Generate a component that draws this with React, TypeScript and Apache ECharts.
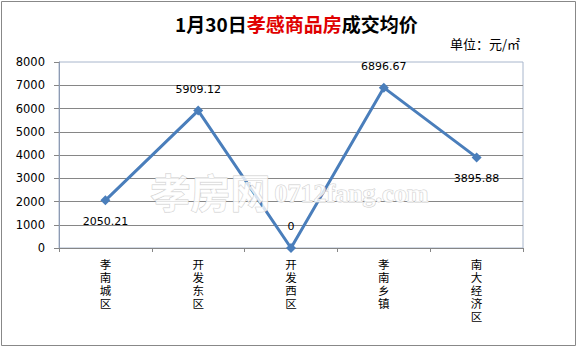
import React, { useEffect, useRef } from "react";
import * as echarts from "echarts";

const categories = ["孝南城区", "开发东区", "开发西区", "孝南乡镇", "南大经济区"];
const prices = [2050.21, 5909.12, 0, 6896.67, 3895.88];
const labelPositions = ["bottom", "top", "top", "top", "bottom"];
const yTicks = [0, 1000, 2000, 3000, 4000, 5000, 6000, 7000, 8000];

export default function App() {
  const ref = useRef<HTMLDivElement>(null);
  useEffect(() => {
    document.body.style.margin = "0";
    const chart = echarts.init(ref.current!, null, { renderer: "svg" });
    chart.setOption({
      animation: false,
      backgroundColor: "#ffffff",
      title: {
        text: "{b|1月30日}{r|孝感商品房}{n|成交均价}",
        left: 170,
        top: 9,
        textStyle: {
          rich: {
            b: { fontSize: 19, fontWeight: "bold", color: "#000", fontFamily: "Noto Sans CJK SC" },
            r: { fontSize: 19, fontWeight: "bold", color: "#e00000", fontFamily: "Noto Sans CJK SC" },
            n: { fontSize: 19, fontWeight: "bold", color: "#000", fontFamily: "Noto Sans CJK SC" },
          },
        },
      },
      graphic: [
        {
          type: "rect",
          shape: { x: 1.5, y: 1.5, width: 574, height: 344 },
          style: { fill: "none", stroke: "#888888", lineWidth: 1 },
          z: -1,
        },
        {
          type: "text",
          left: 450,
          top: 37,
          style: { text: "单位：元/㎡", fontSize: 13, fill: "#000", fontFamily: "Noto Sans CJK SC" },
        },
        {
          type: "text",
          left: 150,
          top: 170,
          z: 100,
          style: {
            text: "孝房网",
            fontSize: 40,
            fontWeight: "bold",
            fontFamily: "Noto Sans CJK SC",
            fill: "rgba(255,255,255,0.8)",
            stroke: "rgba(200,200,200,0.9)",
            lineWidth: 1,
          },
        },
        {
          type: "text",
          left: 274,
          top: 180,
          z: 100,
          style: {
            text: "0712fang.com",
            fontSize: 26,
            fontWeight: "bold",
            fontFamily: "Liberation Serif",
            fill: "rgba(255,255,255,0.8)",
            stroke: "rgba(200,200,200,0.9)",
            lineWidth: 1,
          },
        },
      ],
      grid: {
        left: 59,
        right: 55,
        top: 62,
        bottom: 99,
        show: true,
        borderColor: "#A8B6CC",
        borderWidth: 1,
      },
      xAxis: {
        type: "category",
        data: categories,
        boundaryGap: true,
        axisLine: { lineStyle: { color: "#868686", width: 1 } },
        axisTick: { show: true, length: 4, lineStyle: { color: "#868686" } },
        axisLabel: {
          interval: 0,
          margin: 9,
          color: "#000",
          fontSize: 11.5,
          lineHeight: 13,
          fontFamily: "Noto Sans CJK SC",
          verticalAlign: "top",
          formatter: (v: string) => v.split("").join("\n"),
        },
      },
      yAxis: {
        type: "value",
        min: 0,
        max: 8000,
        interval: 1000,
        axisLine: { show: true, lineStyle: { color: "#8E9BB3", width: 1 } },
        axisTick: { show: true, length: 5, lineStyle: { color: "#868686" } },
        axisLabel: {
          margin: 14,
          color: "#000",
          fontSize: 11.5,
          fontFamily: "DejaVu Sans",
          formatter: (v: number) => (yTicks.includes(v) ? String(v) : ""),
        },
        splitLine: { show: true, showMaxLine: false, lineStyle: { color: "#868686", width: 1 } },
      },
      series: [
        {
          type: "line",
          data: prices.map((v, i) => ({
            value: v,
            label: { position: labelPositions[i] },
          })),
          symbol: "diamond",
          symbolSize: 10,
          itemStyle: { color: "#4A7EBB" },
          lineStyle: { color: "#4A7EBB", width: 3 },
          label: {
            show: true,
            distance: 11,
            color: "#000",
            fontSize: 11,
            fontFamily: "DejaVu Sans",
            formatter: (p: any) => String(p.value),
          },
          z: 5,
        },
      ],
    });
    return () => chart.dispose();
  }, []);
  return <div ref={ref} style={{ width: 578, height: 347 }} />;
}
